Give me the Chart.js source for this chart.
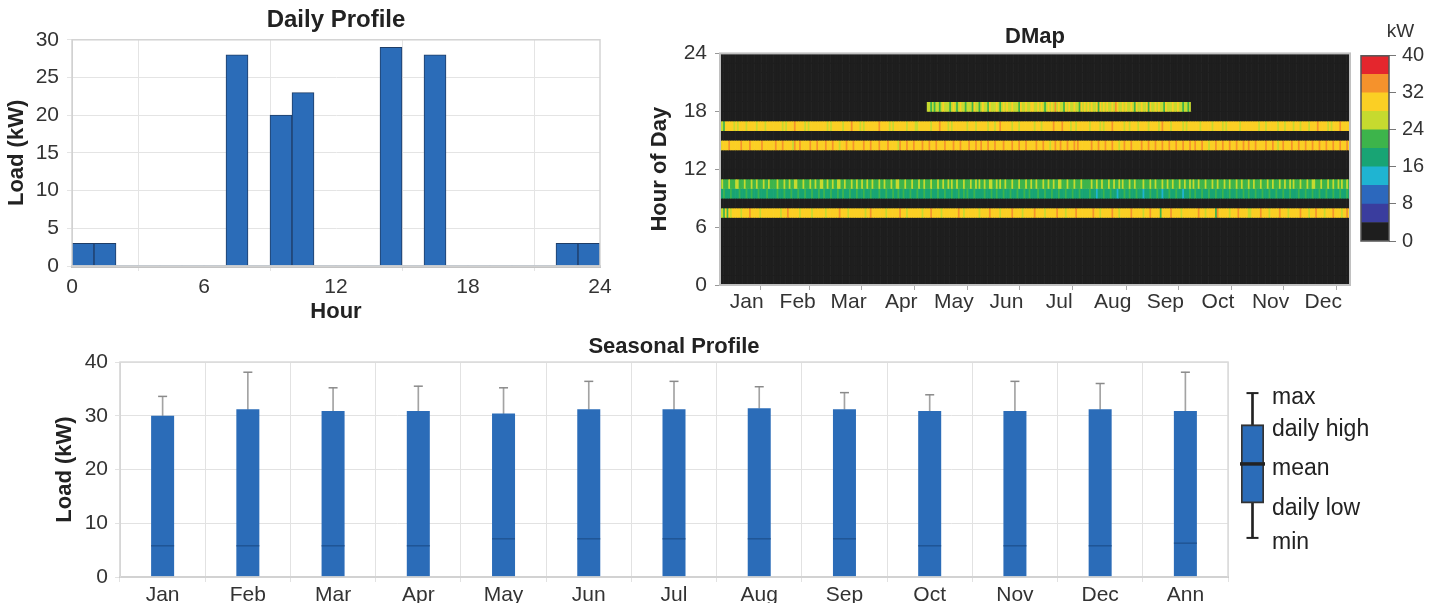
<!DOCTYPE html>
<html><head><meta charset="utf-8">
<script src="https://cdn.jsdelivr.net/npm/chart.js@4.4.1/dist/chart.umd.min.js"></script>
<style>
html,body{margin:0;padding:0;background:#fff}
body{width:1440px;height:603px;overflow:hidden;position:relative}
canvas{position:absolute}
</style></head><body>
<canvas id="daily" width="625" height="330" style="left:0;top:0"></canvas>
<canvas id="dmap" width="715" height="330" style="left:640px;top:0"></canvas>
<canvas id="cbar" width="85" height="300" style="left:1355px;top:0"></canvas>
<canvas id="season" width="1240" height="273" style="left:0;top:330px"></canvas>
<canvas id="legendbox" width="208" height="201" style="left:1232px;top:365px"></canvas>
<script>
// ---------- DATA ----------
const dailyHours = [0,1,2,3,4,5,6,7,8,9,10,11,12,13,14,15,16,17,18,19,20,21,22,23];
const dailyLoad  = [3,3,0,0,0,0,0,28,0,20,23,0,0,0,29,0,28,0,0,0,0,0,3,3];
const dailyTicks = [0,6,12,18,24];

const monthNames = ['Jan','Feb','Mar','Apr','May','Jun','Jul','Aug','Sep','Oct','Nov','Dec'];
const monthDays  = [31,28,31,30,31,30,31,31,30,31,30,31];
const hourTicks  = [0,6,12,18,24];

// DMap rows: one character per day = colour bin (0..9, 4 kW each)
const dmapH07 = [
 "6657576777 7767777877 7776777777 7","7777677787 7777767777 77677777","7767777777 8777767777 7777767787 7",
 "7777776777 7777877767 7777777677","7787777767 7777777787 7677777777 6","7777787777 7677777787 7777677777",
 "7877777677 7777877776 7777787777 7","7777877767 7777787776 7777778777 7","7767778777 7757777787 7777677777",
 "7777877767 7777587777 7767777877 7","7766777778 7777677777 8777767777","7787777677 7877776777 7877776778 7"];
const dmapH09 = [
 "4454445444 4544454454 4454444544 4","4454445444 5444544454 44544454","4544454445 4454445444 5444544454 4",
 "4454445444 5445445444 5444544454","4454445444 5444544454 4545444544 4","4454445445 4445444544 4544454454",
 "4445444544 4544454445 4445444544 4","4454443444 5444544434 4454454445 4","4434445444 5443444544 4544434445",
 "4454445444 5444544454 4454445444 5","4454445444 5444544454 4454445444","4544454445 4445444544 4544454445 4"];
const dmapH10 = [
 "5655565556 6555655565 5655565565 5","5565556556 5566555655 56556556","6556556556 6556555655 6556556556 5",
 "5565565556 5566555655 5655565565","5565556556 5565655655 5655565565 6","5565566556 5655655565 5565556556",
 "5565556556 5565566555 6555655565 5","5556556556 5556556556 5655565565 5","5565556556 5556556556 5556556556",
 "5655655565 5565565556 5565556556 5","5565565556 5556556555 6556556565","5565556556 6555655565 5655656556 5"];
const dmapH14 = [
 "6777787777 7787777877 7777877777 7","7877787777 7687787777 78777877","7787778777 6777877787 7777877787 7",
 "7787777877 7776877787 7787777877","7877787777 8777787778 7777877787 7","8777877787 7778777787 7787778777",
 "7787778777 6778778777 8777878777 7","7778777877 7877787776 7787778777 7","7877787778 7778777877 7877787778",
 "7787778777 6777877787 7787778777 8","7787778777 7787778776 7787777877","7877787778 7778777877 7877787778 7"];
const dmapH16 = [
 "6657777767 6777767777 7677776777 7","7777767677 7787777767 67777777","7776767777 7767777877 7767677777 7",
 "7787777767 6777777767 7776677777","7767777877 7767677777 7776777767 7","7777677767 7877777767 7767777777",
 "7677767777 7787777877 7767767777 7","7767777767 6777787777 7767767777 6","7777767777 7678777767 7777767677",
 "7777767777 7767777767 6777777767 7","7777777767 7767777776 7776777767","7767777677 7787777767 6777787777 7"];
const dmapH18 = [
 "0000000000 0000000000 0000000000 0","0000000000 0000000000 00000000","0000000000 0000000000 0000000000 0",
 "0000000000 0000000000 0000000000","6656566567 6665676567 6656665766 5","6766576667 6567676676 6657667667",
 "7667676567 6768676657 6766766576 7","6767667576 7676676876 6767667657 6","6766757667 6766576667 6676656656",
 "0000000000 0000000000 0000000000 0","0000000000 0000000000 0000000000","0000000000 0000000000 0000000000 0"];
const dmapDetailHours = [7, 9, 10, 14, 16, 18];
const dmapDetailRows  = [dmapH07, dmapH09, dmapH10, dmapH14, dmapH16, dmapH18];

const cbarEdges = [0,4,8,12,16,20,24,28,32,36,40];
const cbarColors = ['#1e1e1e','#3a3d9e','#2c68bd','#1fb4d2','#18a474','#3db44b','#c6da2f','#fbcf24','#f5922c','#e4262d'];

const seasonLabels = ['Jan','Feb','Mar','Apr','May','Jun','Jul','Aug','Sep','Oct','Nov','Dec','Ann'];
const seasonMin  = [0,0,0,0,0,0,0,0,0,0,0,0,0];
const seasonLow  = [0,0,0,0,0,0,0,0,0,0,0,0,0];
const seasonMean = [5.8,5.8,5.8,5.8,7.1,7.1,7.1,7.1,7.1,5.8,5.8,5.8,6.3];
const seasonHigh = [30.0,31.2,30.9,30.9,30.4,31.2,31.2,31.4,31.2,30.9,30.9,31.2,30.9];
const seasonMax  = [33.6,38.1,35.2,35.5,35.2,36.4,36.4,35.4,34.3,33.9,36.4,36.0,38.1];

const legendNames = ['max','daily high','mean','daily low','min'];
const legendVals  = [9.6, 7.6, 5.1, 2.6, 0.4];

// ---------- STYLE / BUILD ----------
const BLUE = '#2b6cb8';
const FONT = "'Liberation Sans', Arial, sans-serif";
Chart.defaults.font.family = FONT;
Chart.defaults.color = '#333';

const framePlugin = {
  id: 'frame',
  afterDatasetsDraw(chart, args, opts) {
    const {ctx, chartArea: a} = chart;
    ctx.save();
    ctx.strokeStyle = opts.color || '#ccc';
    ctx.lineWidth = opts.width || 1;
    ctx.strokeRect(a.left, a.top, a.right - a.left, a.bottom - a.top);
    ctx.restore();
  }
};

// Daily profile
new Chart(document.getElementById('daily'), {
  type: 'bar',
  data: { datasets: [{
    data: dailyHours.map((h, i) => ({ x: h + 0.5, y: dailyLoad[i] })),
    backgroundColor: BLUE,
    borderColor: '#1f3d66',
    borderWidth: c => (c.raw && c.raw.y > 0 ? 1 : 0),
    borderSkipped: 'start',
    barPercentage: 1, categoryPercentage: 1
  }]},
  options: {
    responsive: false, animation: false, events: [],
    layout: { padding: { left: 4, right: 25, top: 0, bottom: 5 } },
    plugins: {
      legend: { display: false }, tooltip: { enabled: false },
      title: { display: true, text: 'Daily Profile', fullSize: false, color: '#222',
               font: { size: 24, weight: 'bold' }, padding: { top: 6, bottom: 5 } },
      frame: { color: '#d4d4d4', width: 1.5 }
    },
    scales: {
      x: { type: 'linear', min: 0, max: 24, offset: false,
           afterBuildTicks: s => { s.ticks = dailyTicks.map(v => ({ value: v })); },
           ticks: { font: { size: 21 }, color: '#333', padding: 4, maxRotation: 0 },
           grid: { color: '#e4e4e4', tickLength: 5 },
           border: { color: '#c4c4c4', width: 3 },
           title: { display: true, text: 'Hour', color: '#222', font: { size: 22, weight: 'bold' }, padding: 0 },
           afterFit: s => { s.height = 59; } },
      y: { min: 0, max: 30,
           ticks: { stepSize: 5, font: { size: 21 }, color: '#333', padding: 8 },
           grid: { color: '#e4e4e4', tickLength: 5 },
           border: { color: '#c8c8c8', width: 1 },
           title: { display: true, text: 'Load (kW)', color: '#222', font: { size: 22, weight: 'bold' }, padding: 0 },
           afterFit: s => { s.width = 68; } }
    }
  },
  plugins: [framePlugin]
});

// DMap
const yearDays = monthDays.reduce((a, b) => a + b, 0);
const dmapTicks = [{ value: 0, label: '' }];
{ let d = 0;
  monthNames.forEach((m, i) => {
    dmapTicks.push({ value: d + monthDays[i] / 2, label: m });
    d += monthDays[i];
    dmapTicks.push({ value: d, label: '' });
  });
}
const dmapCells = [];
for (let h = 0; h < 24; h++) {
  const k = dmapDetailHours.indexOf(h);
  const codes = k >= 0 ? dmapDetailRows[k].join('').replace(/\s+/g, '') : null;
  for (let d = 0; d < yearDays; d++) {
    let kw;
    if (codes) {
      const c = codes.charCodeAt(Math.min(codes.length - 1, Math.floor(d * codes.length / yearDays))) - 48;
      kw = cbarEdges[c] + 2;
    } else {
      kw = dailyLoad[h];
    }
    dmapCells.push({ x: d + 0.5, y: [h, h + 1], v: kw });
  }
}
const binOf = kw => Math.max(0, Math.min(9, Math.floor(kw / 4)));

new Chart(document.getElementById('dmap'), {
  type: 'bar',
  data: { datasets: [{
    data: dmapCells,
    backgroundColor: c => (c.raw ? cbarColors[binOf(c.raw.v)] : '#1e1e1e'),
    borderWidth: 0, barPercentage: 1, categoryPercentage: 1
  }]},
  options: {
    responsive: false, animation: false, events: [],
    layout: { padding: { left: 7, right: 5, top: 0, bottom: 0 } },
    plugins: {
      legend: { display: false }, tooltip: { enabled: false },
      title: { display: true, text: 'DMap', fullSize: false, color: '#222',
               font: { size: 22, weight: 'bold' }, padding: { top: 24, bottom: 3 } },
      frame: { color: '#c0c0c0', width: 2 }
    },
    scales: {
      x: { type: 'linear', min: 0, max: yearDays, offset: false,
           afterBuildTicks: s => { s.ticks = dmapTicks.map(t => ({ value: t.value })); },
           ticks: { autoSkip: false, maxRotation: 0, font: { size: 21 }, color: '#333', padding: 0,
                    callback: (v, i) => dmapTicks[i].label },
           grid: { drawOnChartArea: false, tickLength: 5,
                   tickColor: c => (c.tick && c.tick.label ? 'rgba(0,0,0,0)' : '#aaa') },
           border: { color: '#bbb' },
           afterFit: s => { s.height = 45; } },
      y: { min: 0, max: 24,
           afterBuildTicks: s => { s.ticks = hourTicks.map(v => ({ value: v })); },
           ticks: { font: { size: 21 }, color: '#333', padding: 8 },
           grid: { drawOnChartArea: false, tickLength: 5, color: '#999' },
           border: { color: '#bbb' },
           title: { display: true, text: 'Hour of Day', color: '#222', font: { size: 22, weight: 'bold' }, padding: 0 },
           afterFit: s => { s.width = 73; } }
    }
  },
  plugins: [framePlugin]
});

// Colour bar
new Chart(document.getElementById('cbar'), {
  type: 'bar',
  data: { labels: [''], datasets: cbarColors.map((col, i) => ({
    data: [[cbarEdges[i], cbarEdges[i + 1]]], backgroundColor: col, borderWidth: 0,
    grouped: false, barPercentage: 1, categoryPercentage: 1
  })) },
  options: {
    responsive: false, animation: false, events: [],
    layout: { padding: { left: 6, right: 0, top: 0, bottom: 59 } },
    plugins: {
      legend: { display: false }, tooltip: { enabled: false },
      title: { display: true, text: 'kW', color: '#333', font: { size: 19, weight: 'normal' }, padding: { top: 20, bottom: 13 } },
      frame: { color: '#555', width: 1.5 }
    },
    scales: {
      x: { display: false },
      y: { position: 'right', min: 0, max: 40,
           ticks: { stepSize: 8, font: { size: 20 }, color: '#333', padding: 6 },
           grid: { drawOnChartArea: false, tickLength: 7, color: '#777' },
           border: { display: false },
           afterFit: s => { s.width = 51; } }
    }
  },
  plugins: [framePlugin]
});

// Seasonal profile
new Chart(document.getElementById('season'), {
  type: 'bar',
  data: { labels: seasonLabels, datasets: [
    { type: 'line', data: seasonMean, showLine: false, pointStyle: 'line', pointRadius: 11.5,
      pointBorderWidth: 1.2, pointBorderColor: '#1d4f8c', borderColor: '#1d4f8c', order: 1, clip: false },
    { type: 'line', data: seasonMax, showLine: false, pointStyle: 'line', pointRadius: 4.5,
      pointBorderWidth: 1.5, pointBorderColor: '#8a8a8a', borderColor: '#8a8a8a', order: 2, clip: false },
    { data: seasonLabels.map((_, i) => [seasonLow[i], seasonHigh[i]]), backgroundColor: BLUE, borderWidth: 0,
      barPercentage: 0.27, categoryPercentage: 1, grouped: false, order: 3 },
    { data: seasonLabels.map((_, i) => [seasonHigh[i], seasonMax[i]]), backgroundColor: '#a3a3a3', borderWidth: 0,
      barThickness: 1, grouped: false, order: 4 },
    { data: seasonLabels.map((_, i) => [seasonMin[i], seasonLow[i]]), backgroundColor: '#a3a3a3', borderWidth: 0,
      barThickness: 1, grouped: false, order: 5 }
  ]},
  options: {
    responsive: false, animation: false, events: [],
    layout: { autoPadding: false, padding: { left: 52, right: 12, top: 0, bottom: 0 } },
    plugins: {
      legend: { display: false }, tooltip: { enabled: false },
      title: { display: true, text: 'Seasonal Profile', fullSize: false, color: '#222',
               font: { size: 22, weight: 'bold' }, padding: { top: 4, bottom: 1.6 } },
      frame: { color: '#dadada', width: 1.5 }
    },
    scales: {
      x: { ticks: { font: { size: 21 }, color: '#333', padding: 1, maxRotation: 0, autoSkip: false },
           grid: { color: '#e2e2e2', tickLength: 5 },
           border: { color: '#bbb', width: 2 },
           afterFit: s => { s.height = 26; } },
      y: { min: 0, max: 40,
           ticks: { stepSize: 10, font: { size: 21 }, color: '#333', padding: 7 },
           grid: { color: '#e2e2e2', tickLength: 5 },
           border: { color: '#c8c8c8' },
           title: { display: true, text: 'Load (kW)', color: '#222', font: { size: 22, weight: 'bold' }, padding: 0 },
           afterFit: s => { s.width = 68; } }
    }
  },
  plugins: [framePlugin]
});

// Box-plot key
new Chart(document.getElementById('legendbox'), {
  type: 'bar',
  data: { labels: [''], datasets: [
    { type: 'line', data: [legendVals[2]], showLine: false, pointStyle: 'line', pointRadius: 12.5,
      pointBorderWidth: 3.5, pointBorderColor: '#222', borderColor: '#222', order: 1, clip: false },
    { type: 'line', data: [legendVals[0]], showLine: false, pointStyle: 'line', pointRadius: 6,
      pointBorderWidth: 2, pointBorderColor: '#222', borderColor: '#222', order: 2, clip: false },
    { type: 'line', data: [legendVals[4]], showLine: false, pointStyle: 'line', pointRadius: 6,
      pointBorderWidth: 2, pointBorderColor: '#222', borderColor: '#222', order: 2, clip: false },
    { data: [[legendVals[3], legendVals[1]]], backgroundColor: BLUE, borderColor: '#333', borderWidth: 2,
      borderSkipped: false, barPercentage: 1, categoryPercentage: 1, grouped: false, order: 3 },
    { data: [[legendVals[4], legendVals[0]]], backgroundColor: '#222', borderWidth: 0,
      barThickness: 2, grouped: false, order: 4 }
  ]},
  options: {
    responsive: false, animation: false, events: [],
    layout: { autoPadding: false, padding: { left: 9, right: 0, top: 9, bottom: 10 } },
    plugins: { legend: { display: false }, tooltip: { enabled: false } },
    scales: {
      x: { display: false },
      y: { position: 'right', min: 0, max: 10,
           afterBuildTicks: s => { s.ticks = legendVals.map(v => ({ value: v })); },
           ticks: { autoSkip: false, font: { size: 23 }, color: '#222', padding: 8, labelOffset: 5,
                    callback: (v, i) => legendNames[i] },
           grid: { display: false, drawTicks: false },
           border: { display: false },
           afterFit: s => { s.width = 176; } }
    }
  }
});
</script>
</body></html>
